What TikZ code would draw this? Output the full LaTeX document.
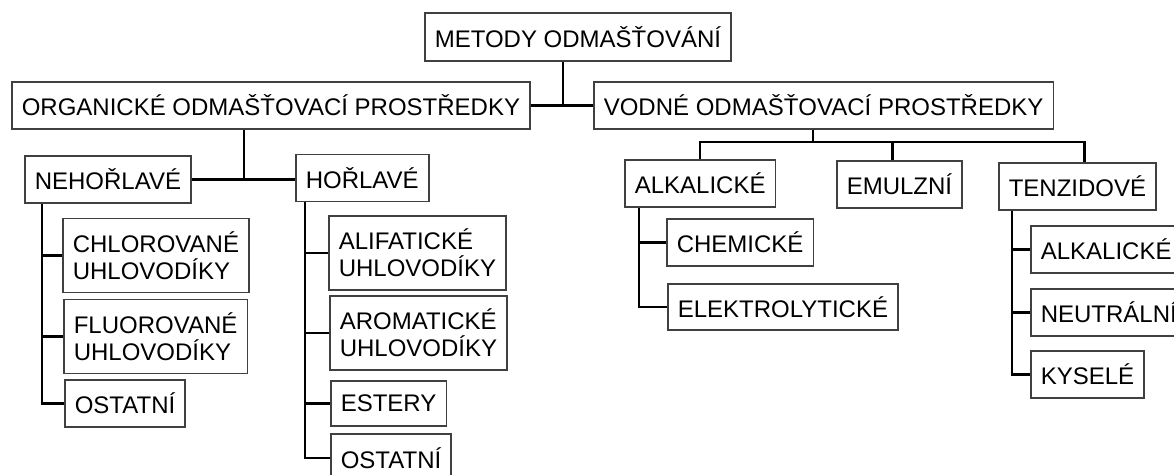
\documentclass[tikz,border=0pt]{standalone}
\usepackage{fontspec}
\setmainfont{Liberation Sans}
\begin{document}
\begin{tikzpicture}[x=0.5pt,y=-0.5pt]
	\tikzstyle{Ram} = [rectangle, anchor=west, draw=black!75, line width=0.8pt, inner xsep=5pt, inner ysep=0pt, minimum height=23.5pt, align=left, font=\fontsize{12}{13.5}\selectfont]
	\tikzstyle{Ram2} = [Ram, minimum height=37pt]
	\tikzstyle{Cara} = [line width=1.1pt, black]

	\useasboundingbox (0,0) rectangle (1174,475);
	\clip (0,0) rectangle (1174,475);

	% horni uroven
	\node (metody) [Ram, minimum height=24pt] at (424,37) {METODY ODMAŠŤOVÁNÍ};
	\node (organ) [Ram] at (11,105.5) {ORGANICKÉ ODMAŠŤOVACÍ PROSTŘEDKY};
	\node (vodne) [Ram] at (593,105.5) {VODNÉ ODMAŠŤOVACÍ PROSTŘEDKY};

	% organicke
	\node (nehor) [Ram] at (24,179.5) {NEHOŘLAVÉ};
	\node (hor) [Ram] at (295,178) {HOŘLAVÉ};
	\node (chlor) [Ram2] at (62,255.5) {CHLOROVANÉ\\UHLOVODÍKY};
	\node (fluor) [Ram2] at (63,336.5) {FLUOROVANÉ\\UHLOVODÍKY};
	\node (ostat1) [Ram] at (64,403.5) {OSTATNÍ};
	\node (alif) [Ram2] at (328,253) {ALIFATICKÉ\\UHLOVODÍKY};
	\node (arom) [Ram2] at (329,333) {AROMATICKÉ\\UHLOVODÍKY};
	\node (ester) [Ram, minimum height=22.5pt] at (330,403.5) {ESTERY};
	\node (ostat2) [Ram, minimum height=24pt] at (330,458) {OSTATNÍ};

	% vodne
	\node (alkal) [Ram] at (624,183.5) {ALKALICKÉ};
	\node (emul) [Ram] at (836,184.5) {EMULZNÍ};
	\node (tenz) [Ram] at (998,186.5) {TENZIDOVÉ};
	\node (chem) [Ram] at (666,242.5) {CHEMICKÉ};
	\node (elektro) [Ram, minimum height=23pt] at (667,307) {ELEKTROLYTICKÉ};
	\node (alkal2) [Ram] at (1030,249.5) {ALKALICKÉ};
	\node (neutr) [Ram] at (1030,312.5) {NEUTRÁLNÍ};
	\node (kysel) [Ram] at (1030,374.5) {KYSELÉ};

	\coordinate (mbus) at (563,105.5);
	\coordinate (obus) at (244,179.5);
	\coordinate (vbus) at (813,142);

	\draw [Cara] (organ.east) -- (vodne.west);
	\draw [Cara] (mbus |- metody.south) -- (mbus);
	\draw [Cara] (obus |- organ.south) -- (obus);
	\draw [Cara] (nehor.east) -- (nehor.east -| hor.west);
	\draw [Cara] (vbus |- vodne.south) -- (vbus);
	\draw [Cara] (alkal.north) |- (vbus) -| ([xshift=3.5pt]tenz.north);
	\draw [Cara] ([xshift=-3.5pt]emul.north) |- (vbus);

	\draw [Cara] ([xshift=9pt]nehor.south west) |- (ostat1.west);
	\draw [Cara] ([xshift=9pt]nehor.south west) |- (chlor.west);
	\draw [Cara] ([xshift=9pt]nehor.south west) |- (fluor.west);

	\draw [Cara] ([xshift=5pt]hor.south west) |- (ostat2.west);
	\draw [Cara] ([xshift=5pt]hor.south west) |- (alif.west);
	\draw [Cara] ([xshift=5pt]hor.south west) |- (arom.west);
	\draw [Cara] ([xshift=5pt]hor.south west) |- (ester.west);

	\draw [Cara] ([xshift=7.5pt]alkal.south west) |- (elektro.west);
	\draw [Cara] ([xshift=7.5pt]alkal.south west) |- (chem.west);

	\draw [Cara] ([xshift=7pt]tenz.south west) |- (kysel.west);
	\draw [Cara] ([xshift=7pt]tenz.south west) |- (alkal2.west);
	\draw [Cara] ([xshift=7pt]tenz.south west) |- (neutr.west);
\end{tikzpicture}
\end{document}
